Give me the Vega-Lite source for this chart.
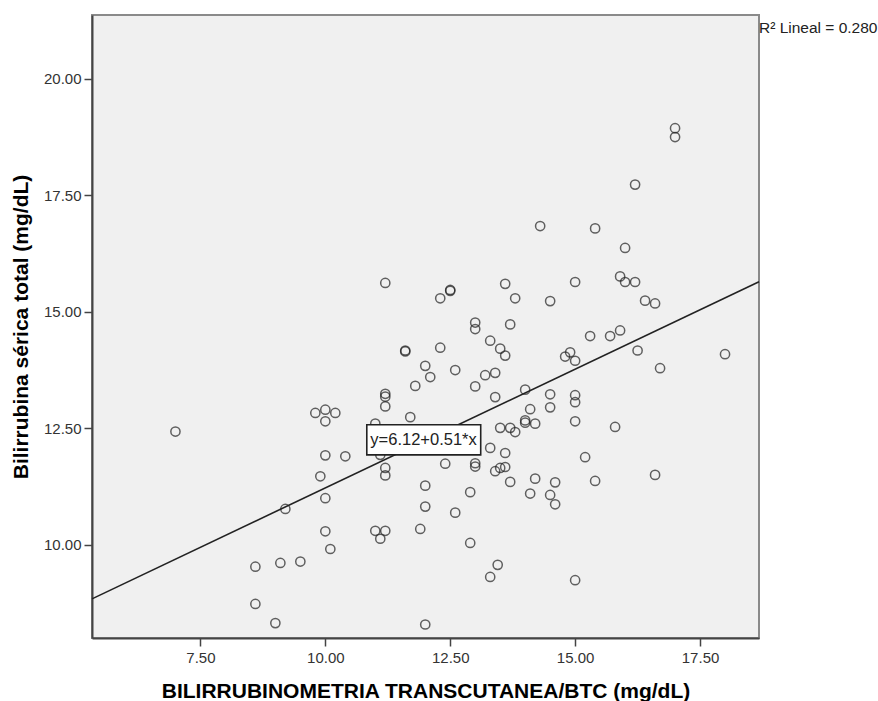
{
  "$schema": "https://vega.github.io/schema/vega-lite/v6.json",
  "width": 667,
  "height": 623,
  "autosize": "none",
  "padding": {"left": 92, "top": 15, "right": 119, "bottom": 63},
  "background": "white",
  "config": {
    "view": {"fill": "#f0f0f0", "stroke": "#8a8a8a", "strokeWidth": 2},
    "font": "Liberation Sans"
  },
  "layer": [
    {
      "data": {"values": [
        {"btc": 11.2, "bst": 15.62}, {"btc": 12.3, "bst": 15.29}, {"btc": 12.5, "bst": 15.47}, {"btc": 12.5, "bst": 15.45},
        {"btc": 13.6, "bst": 15.6}, {"btc": 13.8, "bst": 15.29}, {"btc": 14.5, "bst": 15.23}, {"btc": 15.0, "bst": 15.64},
        {"btc": 13.0, "bst": 14.77}, {"btc": 13.0, "bst": 14.63}, {"btc": 13.7, "bst": 14.73}, {"btc": 15.3, "bst": 14.48},
        {"btc": 13.3, "bst": 14.38}, {"btc": 13.5, "bst": 14.21}, {"btc": 13.6, "bst": 14.06}, {"btc": 11.6, "bst": 14.17},
        {"btc": 11.6, "bst": 14.15}, {"btc": 12.3, "bst": 14.23}, {"btc": 12.0, "bst": 13.84}, {"btc": 12.1, "bst": 13.6},
        {"btc": 12.6, "bst": 13.75}, {"btc": 11.8, "bst": 13.41}, {"btc": 13.0, "bst": 13.4}, {"btc": 13.2, "bst": 13.64},
        {"btc": 13.4, "bst": 13.69}, {"btc": 13.4, "bst": 13.17}, {"btc": 14.8, "bst": 14.04}, {"btc": 14.9, "bst": 14.13},
        {"btc": 15.0, "bst": 13.95}, {"btc": 14.0, "bst": 13.33}, {"btc": 14.5, "bst": 13.23}, {"btc": 14.5, "bst": 12.95},
        {"btc": 15.0, "bst": 13.21}, {"btc": 15.0, "bst": 13.06}, {"btc": 14.1, "bst": 12.91}, {"btc": 14.0, "bst": 12.67},
        {"btc": 14.0, "bst": 12.62}, {"btc": 14.2, "bst": 12.6}, {"btc": 15.0, "bst": 12.65}, {"btc": 13.5, "bst": 12.51},
        {"btc": 13.7, "bst": 12.51}, {"btc": 13.8, "bst": 12.42}, {"btc": 11.2, "bst": 13.24}, {"btc": 11.2, "bst": 13.18},
        {"btc": 11.2, "bst": 12.97}, {"btc": 9.8, "bst": 12.83}, {"btc": 10.0, "bst": 12.9}, {"btc": 10.2, "bst": 12.83},
        {"btc": 10.0, "bst": 12.65}, {"btc": 11.7, "bst": 12.74}, {"btc": 11.0, "bst": 12.6}, {"btc": 13.3, "bst": 12.08},
        {"btc": 13.6, "bst": 11.97}, {"btc": 15.2, "bst": 11.88}, {"btc": 10.0, "bst": 11.92}, {"btc": 10.4, "bst": 11.9},
        {"btc": 11.1, "bst": 11.93}, {"btc": 12.4, "bst": 11.74}, {"btc": 13.0, "bst": 11.75}, {"btc": 13.0, "bst": 11.68},
        {"btc": 13.4, "bst": 11.58}, {"btc": 13.5, "bst": 11.65}, {"btc": 13.6, "bst": 11.67}, {"btc": 11.2, "bst": 11.65},
        {"btc": 11.2, "bst": 11.49}, {"btc": 9.9, "bst": 11.47}, {"btc": 13.7, "bst": 11.35}, {"btc": 14.2, "bst": 11.42},
        {"btc": 14.6, "bst": 11.34}, {"btc": 15.4, "bst": 11.37}, {"btc": 12.0, "bst": 11.27}, {"btc": 12.9, "bst": 11.13},
        {"btc": 14.1, "bst": 11.1}, {"btc": 14.5, "bst": 11.07}, {"btc": 10.0, "bst": 11.0}, {"btc": 14.6, "bst": 10.87},
        {"btc": 12.0, "bst": 10.82}, {"btc": 12.6, "bst": 10.69}, {"btc": 10.0, "bst": 10.29}, {"btc": 11.0, "bst": 10.3},
        {"btc": 11.2, "bst": 10.3}, {"btc": 11.1, "bst": 10.13}, {"btc": 11.9, "bst": 10.34}, {"btc": 10.1, "bst": 9.91},
        {"btc": 12.9, "bst": 10.04}, {"btc": 9.5, "bst": 9.64}, {"btc": 13.45, "bst": 9.57}, {"btc": 13.3, "bst": 9.31},
        {"btc": 15.0, "bst": 9.24}, {"btc": 12.0, "bst": 8.29}, {"btc": 9.2, "bst": 10.77}, {"btc": 8.6, "bst": 9.53},
        {"btc": 9.1, "bst": 9.61}, {"btc": 8.6, "bst": 8.73}, {"btc": 9.0, "bst": 8.32}, {"btc": 7.0, "bst": 12.43},
        {"btc": 14.3, "bst": 16.84}, {"btc": 15.4, "bst": 16.79}, {"btc": 17.0, "bst": 18.94}, {"btc": 17.0, "bst": 18.75},
        {"btc": 16.2, "bst": 17.73}, {"btc": 16.0, "bst": 16.37}, {"btc": 15.9, "bst": 15.76}, {"btc": 16.0, "bst": 15.64},
        {"btc": 16.2, "bst": 15.64}, {"btc": 16.4, "bst": 15.24}, {"btc": 16.6, "bst": 15.18}, {"btc": 15.7, "bst": 14.48},
        {"btc": 15.9, "bst": 14.6}, {"btc": 16.25, "bst": 14.17}, {"btc": 16.7, "bst": 13.79}, {"btc": 18.0, "bst": 14.09},
        {"btc": 15.8, "bst": 12.53}, {"btc": 16.6, "bst": 11.5}
      ]},
      "mark": {"type": "point", "shape": "circle", "filled": false, "size": 85, "color": "#222222", "strokeWidth": 1.5},
      "encoding": {
        "x": {
          "field": "btc", "type": "quantitative",
          "scale": {"domain": [5.33, 18.68], "nice": false, "zero": false},
          "axis": {
            "title": "BILIRRUBINOMETRIA TRANSCUTANEA/BTC (mg/dL)",
            "values": [7.5, 10, 12.5, 15, 17.5], "format": ".2f", "grid": false,
            "tickSize": 8, "tickWidth": 1.5, "tickColor": "#444444",
            "domainColor": "#444444", "domainWidth": 2,
            "labelFont": "Liberation Sans", "labelFontSize": 15, "labelColor": "#333333", "labelPadding": 4,
            "titleFont": "Liberation Sans", "titleFontSize": 21, "titleFontWeight": "bold", "titleColor": "#000000", "titlePadding": 15
          }
        },
        "y": {
          "field": "bst", "type": "quantitative",
          "scale": {"domain": [8.0, 21.37], "nice": false, "zero": false},
          "axis": {
            "title": "Bilirrubina sérica total (mg/dL)",
            "values": [10, 12.5, 15, 17.5, 20], "format": ".2f", "grid": false,
            "tickSize": 8, "tickWidth": 1.5, "tickColor": "#444444",
            "domainColor": "#444444", "domainWidth": 2,
            "labelFont": "Liberation Sans", "labelFontSize": 15, "labelColor": "#333333", "labelPadding": 3,
            "titleFont": "Liberation Sans", "titleFontSize": 21, "titleFontWeight": "bold", "titleColor": "#000000", "titlePadding": 12
          }
        }
      }
    },
    {
      "data": {"values": [{}]},
      "mark": {"type": "rule", "color": "#222222", "strokeWidth": 1.6},
      "encoding": {
        "x": {"datum": 5.33}, "y": {"datum": 8.84},
        "x2": {"datum": 18.68}, "y2": {"datum": 15.647}
      }
    },
    {
      "data": {"values": [{}]},
      "mark": {"type": "rect", "fill": "white", "stroke": "#222222", "strokeWidth": 1.6},
      "encoding": {
        "x": {"datum": 10.83}, "x2": {"datum": 13.11},
        "y": {"datum": 12.575}, "y2": {"datum": 11.93}
      }
    },
    {
      "data": {"values": [{}]},
      "mark": {"type": "text", "text": "y=6.12+0.51*x", "fontSize": 16.5, "font": "Liberation Sans", "color": "#222222", "align": "center", "baseline": "middle"},
      "encoding": {"x": {"datum": 11.966}, "y": {"datum": 12.253}}
    },
    {
      "data": {"values": [{}]},
      "mark": {"type": "text", "text": "R² Lineal = 0.280", "fontSize": 15.5, "font": "Liberation Sans", "color": "#222222", "align": "left", "baseline": "alphabetic"},
      "encoding": {"x": {"datum": 18.68}, "y": {"datum": 20.98}}
    }
  ]
}
